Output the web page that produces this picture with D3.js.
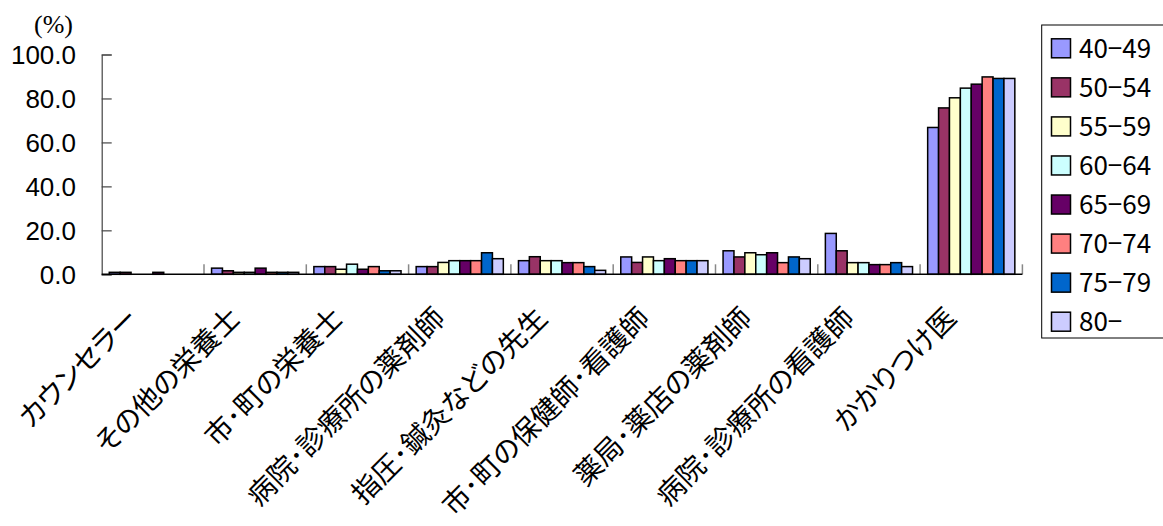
<!DOCTYPE html>
<html><head><meta charset="utf-8">
<script src="https://cdn.jsdelivr.net/npm/d3@7/dist/d3.min.js"></script>
<style>body{margin:0;background:#fff}svg{display:block}.cat{font-feature-settings:"palt" 1}</style>
</head><body>
<svg id="c" width="1163" height="526"></svg>
<script>
const categories = ["カウンセラー","その他の栄養士","市･町の栄養士","病院･診療所の薬剤師","指圧･鍼灸などの先生","市･町の保健師･看護師","薬局･薬店の薬剤師","病院･診療所の看護師","かかりつけ医"];
const seriesNames = ["40-49","50-54","55-59","60-64","65-69","70-74","75-79","80-"];
const seriesColors = ["#9999FF","#993366","#FFFFCC","#CCFFFF","#660066","#FF8080","#0066CC","#CCCCFF"];
const v4049 = [0.9, 2.8, 3.5, 3.5, 6.2, 7.9, 10.7, 18.6, 66.8];
const v5054 = [0.9, 1.6, 3.5, 3.5, 8.0, 5.4, 7.9, 10.7, 75.7];
const v5559 = [0.0, 0.9, 2.3, 5.4, 6.2, 7.9, 9.8, 5.3, 80.3];
const v6064 = [0.0, 0.9, 4.6, 6.2, 6.2, 6.2, 8.9, 5.3, 84.7];
const v6569 = [0.9, 2.8, 2.3, 6.2, 5.3, 7.1, 9.8, 4.4, 86.5];
const v7074 = [0.0, 0.9, 3.5, 6.2, 5.3, 6.2, 5.3, 4.4, 89.8];
const v7579 = [0.0, 0.9, 1.6, 9.8, 3.5, 6.2, 7.9, 5.3, 89.1];
const v80 = [0.0, 0.9, 1.6, 7.1, 1.8, 6.2, 7.1, 3.5, 89.1];
const yTicks = [0, 20, 40, 60, 80, 100];
const seriesValues = [v4049, v5054, v5559, v6064, v6569, v7074, v7579, v80];

const svg = d3.select("#c");
const x0 = d3.scaleBand().domain(categories).range([101.7, 1022.4]).padding(0);
const bw = x0.bandwidth();
const x1 = d3.scaleBand().domain(seriesNames).range([bw*0.074, bw*0.926]).padding(0);
const y = d3.scaleLinear().domain([0, 100]).range([274.3, 54.5]);

// bars
categories.forEach((c, ci) => {
  const g = svg.append("g").attr("transform", `translate(${x0(c)},0)`);
  seriesNames.forEach((s, si) => {
    const v = seriesValues[si][ci];
    if (v <= 0) return;
    g.append("rect")
      .attr("x", x1(s)).attr("width", x1.bandwidth())
      .attr("y", y(v)).attr("height", y(0) - y(v))
      .attr("fill", seriesColors[si]).attr("stroke", "#000").attr("stroke-width", 1.5);
  });
});

// y axis
const yAxis = d3.axisRight(y).tickValues(yTicks).tickSize(10).tickFormat("");
const ya = svg.append("g").attr("transform", "translate(101.7,0)").call(yAxis);
ya.select(".domain").attr("stroke", "#444").attr("stroke-width", 1.2);
ya.selectAll(".tick line").attr("stroke", "#444").attr("stroke-width", 1.2);
svg.append("g").selectAll("text").data(yTicks).join("text")
  .attr("x", 76).attr("y", d => y(d)).attr("dy", "0.36em")
  .attr("text-anchor", "end")
  .attr("font-family", "Liberation Sans, Arial, sans-serif").attr("font-size", 26)
  .text(d => d3.format(".1f")(d));
svg.append("text").attr("x", 34).attr("y", 33)
  .attr("font-family", "Liberation Serif, serif").attr("font-size", 26).text("(%)");

// x axis
const boundaries = categories.map(c => x0(c)).concat([x0.range()[1]]);
svg.append("g").selectAll("line").data(boundaries.slice(1)).join("line")
  .attr("x1", d => d).attr("x2", d => d).attr("y1", y(0)).attr("y2", y(0) - 10)
  .attr("stroke", "#888").attr("stroke-width", 1.5);
svg.append("line").attr("x1", 101.7).attr("x2", x0.range()[1]).attr("y1", y(0)).attr("y2", y(0))
  .attr("stroke", "#000").attr("stroke-width", 1.5);

// category labels
svg.append("g").selectAll("text").data(categories).join("text")
  .attr("class", "cat")
  .attr("transform", c => `translate(${x0(c) + bw/2 - 13},${320}) rotate(-45)`)
  .attr("text-anchor", "end")
  .attr("font-family", "Noto Sans CJK JP, sans-serif").attr("font-size", 28)
  .text(c => c);

// legend
const lg = svg.append("g");
lg.append("rect").attr("x", 1041.7).attr("y", 25).attr("width", 130).attr("height", 313)
  .attr("fill", "#fff").attr("stroke", "#000").attr("stroke-width", 1);
const ly = d3.scalePoint().domain(seriesNames).range([48.3, 321.7]);
seriesNames.forEach((s, i) => {
  lg.append("rect").attr("x", 1051.5).attr("y", ly(s) - 9.5).attr("width", 19).attr("height", 19)
    .attr("fill", seriesColors[i]).attr("stroke", "#000").attr("stroke-width", 1.5);
  lg.append("text").attr("x", 1079).attr("y", ly(s)).attr("dy", "0.36em")
    .attr("font-family", "Noto Sans CJK JP, sans-serif").attr("font-size", 26)
    .text(s.replace("-", "−"));
});
</script>
</body></html>
